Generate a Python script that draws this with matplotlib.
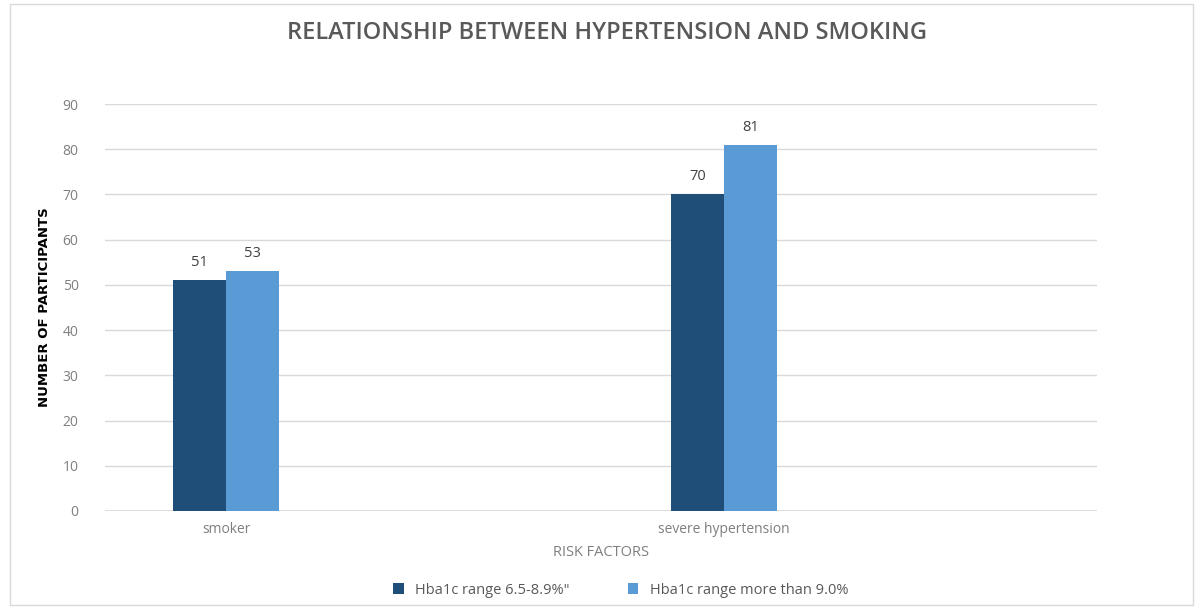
import matplotlib.pyplot as plt
import numpy as np

# data
categories = ["smoker", "severe hypertension"]
low_range = [51, 70]    # Hba1c range 6.5-8.9%"
high_range = [53, 81]   # Hba1c range more than 9.0%
series_names = ['Hba1c range 6.5-8.9%"', "Hba1c range more than 9.0%"]
yticks = list(range(0, 100, 10))

W, H = 1196, 611
fig = plt.figure(figsize=(W / 100, H / 100), dpi=100)
plt.rcParams['font.family'] = ['Open Sans', 'DejaVu Sans']

# axes placed in pixel coords: left 105, right 1097, bottom 511 (y=0), top 104 (y=90)
left, right, top, bottom = 105, 1097, 104, 511
ax = fig.add_axes([left / W, 1 - bottom / H, (right - left) / W, (bottom - top) / H])

x = np.arange(len(categories))
bw = 0.106
dark = "#1F4E79"
light = "#5B9BD5"
b1 = ax.bar(x - bw / 2, low_range, bw, color=dark, label=series_names[0], zorder=3)
b2 = ax.bar(x + bw / 2, high_range, bw, color=light, label=series_names[1], zorder=3)

for bars in (b1, b2):
    for r in bars:
        ax.text(r.get_x() + r.get_width() / 2, r.get_height() + 2.2, str(int(r.get_height())),
                ha="center", va="bottom", fontsize=10.5, color="#404040")

# 0 -> px 226, 1 -> px 724
scale = 724 - 226
ax.set_xlim((left - 226) / scale, (right - 226) / scale)
ax.set_ylim(0, 90)
ax.set_yticks(yticks)
ax.set_xticks(x)
ax.set_xticklabels(categories)
ax.tick_params(axis="both", length=0, colors="#7f7f7f", labelsize=10)
ax.tick_params(axis="y", pad=19)
ax.tick_params(axis="x", pad=8)
ax.grid(axis="y", color="#d9d9d9", linewidth=1, zorder=0)
for s in ax.spines.values():
    s.set_visible(False)
ax.axhline(0, color="#d9d9d9", linewidth=1.2, zorder=2)

ax.set_xlabel("RISK FACTORS", fontsize=10.5, color="#7f7f7f", labelpad=6)
ax.set_ylabel("NUMBER OF PARTICIPANTS", fontsize=9.5, color="black",
              family=["Liberation Sans Narrow", "DejaVu Sans"], fontweight="bold", labelpad=8)

fig.text(607 / W, 1 - 33 / H, "RELATIONSHIP BETWEEN HYPERTENSION AND SMOKING",
         ha="center", va="center", fontsize=17, color="#595959", fontweight="semibold")

fig.legend(loc="center", bbox_to_anchor=(621 / W, 1 - 590 / H), ncol=2, frameon=False,
           fontsize=10.5, labelcolor="#595959", handlelength=0.7, handleheight=0.7,
           columnspacing=4, handletextpad=0.8)

# light outer frame
fig.add_artist(plt.Rectangle((10 / W, 6 / H), 1183 / W, 601 / H, transform=fig.transFigure,
                             fill=False, edgecolor="#d9d9d9", linewidth=1))

fig.savefig("out.png", dpi=100)
